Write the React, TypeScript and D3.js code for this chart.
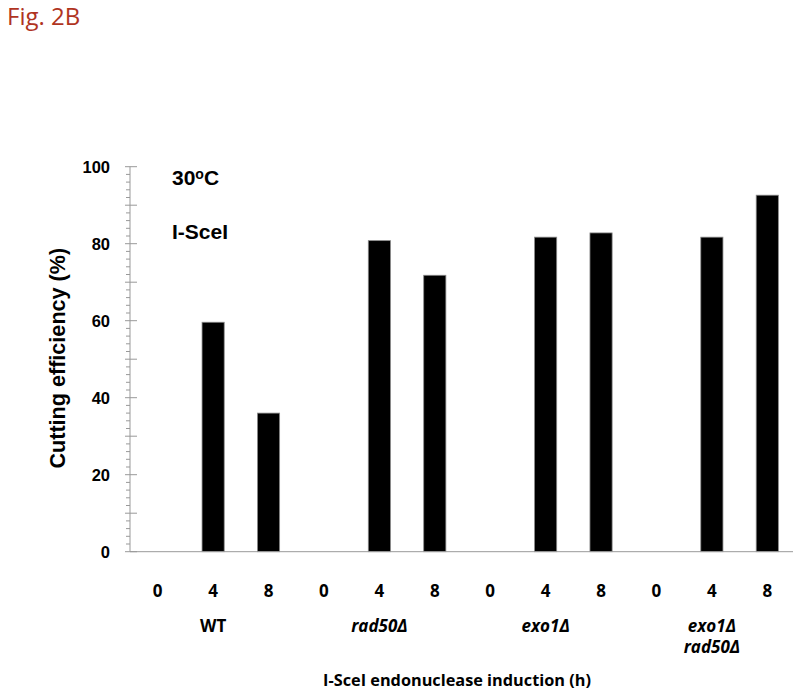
import { useMemo } from "react";
import * as d3 from "d3";

// Dados
const GRUPOS = ["WT", "rad50Δ", "exo1Δ", "exo1Δ rad50Δ"];
const TEMPOS = ["0", "4", "8"];
const VALORES_WT = [0, 59.6, 36];
const VALORES_RAD50 = [0, 80.8, 71.8];
const VALORES_EXO1 = [0, 81.7, 82.8];
const VALORES_EXO1_RAD50 = [0, 81.7, 92.6];
const Y_TICKS = [0, 20, 40, 60, 80, 100];

const SERIES = [VALORES_WT, VALORES_RAD50, VALORES_EXO1, VALORES_EXO1_RAD50];

const WIDTH = 800;
const HEIGHT = 699;
const margin = { top: 166.7, left: 130, right: 5, bottom: 147.3 };

const FONT_ARIAL = "'Liberation Sans', Arial, Helvetica, sans-serif";
const FONT_CALIBRI = "'Open Sans', 'Noto Sans', sans-serif";

const App = () => {
  const innerHeight = HEIGHT - margin.top - margin.bottom;

  const barras = useMemo(
    () =>
      GRUPOS.flatMap((g, gi) =>
        TEMPOS.map((t, ti) => ({ key: `${gi}-${t}`, grupo: g, tempo: t, valor: SERIES[gi][ti] }))
      ),
    []
  );

  const xScale = d3
    .scaleBand()
    .domain(barras.map((b) => b.key))
    .range([margin.left, WIDTH - margin.right])
    .paddingInner(0.6)
    .paddingOuter(0.3);

  const yScale = d3
    .scaleLinear()
    .domain([0, 100])
    .range([margin.top + innerHeight, margin.top]);

  const y0 = yScale(0);
  const minorTicks = d3.range(0, 101, 2).filter((v) => v % 10 !== 0);
  const tenTicks = d3.range(0, 101, 10);
  const cx = (k: string) => (xScale(k) ?? 0) + xScale.bandwidth() / 2;

  return (
    <svg
      width={WIDTH}
      height={HEIGHT}
      style={{ position: "absolute", left: 0, top: 0, background: "#fff" }}
    >
      <rect width={WIDTH} height={HEIGHT} fill="#fff" />

      {/* Título da figura */}
      <text x={7} y={25} fill="#B0341F" fontFamily={FONT_CALIBRI} fontSize={24}>
        Fig. 2B
      </text>

      {/* Barras */}
      {barras.map((b) =>
        b.valor > 0 ? (
          <rect
            key={b.key}
            x={xScale(b.key)}
            y={yScale(b.valor)}
            width={xScale.bandwidth()}
            height={y0 - yScale(b.valor)}
            fill="#000"
            stroke="#8a8a8a"
            strokeWidth={0.8}
          />
        ) : null
      )}

      {/* Eixo Y */}
      <g stroke="#999" strokeWidth={1}>
        <line x1={margin.left} x2={margin.left} y1={yScale(100)} y2={y0} />
        {minorTicks.map((v) => (
          <line key={`m${v}`} x1={margin.left - 4} x2={margin.left} y1={yScale(v)} y2={yScale(v)} />
        ))}
        {tenTicks.map((v) => (
          <line key={`t${v}`} x1={margin.left - 5} x2={margin.left + 7} y1={yScale(v)} y2={yScale(v)} />
        ))}
        {/* Eixo X */}
        <line x1={margin.left} x2={793} y1={y0} y2={y0} />
      </g>

      {Y_TICKS.map((v) => (
        <text
          key={`yl${v}`}
          x={110}
          y={yScale(v)}
          dy="0.36em"
          textAnchor="end"
          fontFamily={FONT_ARIAL}
          fontWeight="bold"
          fontSize={16.5}
          fill="#000"
        >
          {v}
        </text>
      ))}

      <text
        transform={`translate(65,${(yScale(0) + yScale(100)) / 2 - 1}) rotate(-90)`}
        textAnchor="middle"
        fontFamily={FONT_ARIAL}
        fontWeight="bold"
        fontSize={21.6}
        fill="#000"
      >
        Cutting efficiency (%)
      </text>

      {/* Anotações */}
      <text x={172} y={184.5} fontFamily={FONT_ARIAL} fontWeight="bold" fontSize={21} fill="#000">
        30
        <tspan fontSize={14} dy={-6}>o</tspan>
        <tspan dy={6}>C</tspan>
      </text>
      <text x={172} y={238.5} fontFamily={FONT_ARIAL} fontWeight="bold" fontSize={21} fill="#000">
        I-SceI
      </text>

      {/* Rótulos do eixo X */}
      {barras.map((b) => (
        <text
          key={`xl${b.key}`}
          x={cx(b.key)}
          y={597}
          textAnchor="middle"
          fontFamily={FONT_CALIBRI}
          fontWeight="bold"
          fontSize={17}
          fill="#000"
        >
          {b.tempo}
        </text>
      ))}

      {GRUPOS.map((g, gi) => {
        const k = `${gi}-4`;
        const linhas = g.split(" ");
        const italico = g !== "WT";
        return (
          <text
            key={`g${gi}`}
            x={cx(k)}
            y={632}
            textAnchor="middle"
            fontFamily={FONT_CALIBRI}
            fontWeight="bold"
            fontStyle={italico ? "italic" : "normal"}
            fontSize={17}
            fill="#000"
          >
            {linhas.map((l, li) => (
              <tspan key={li} x={cx(k)} dy={li === 0 ? 0 : 21}>
                {l}
              </tspan>
            ))}
          </text>
        );
      })}

      <text
        x={457}
        y={686}
        textAnchor="middle"
        fontFamily={FONT_CALIBRI}
        fontWeight="bold"
        fontSize={16.3}
        fill="#000"
      >
        I-SceI endonuclease induction (h)
      </text>
    </svg>
  );
};

export default App;
